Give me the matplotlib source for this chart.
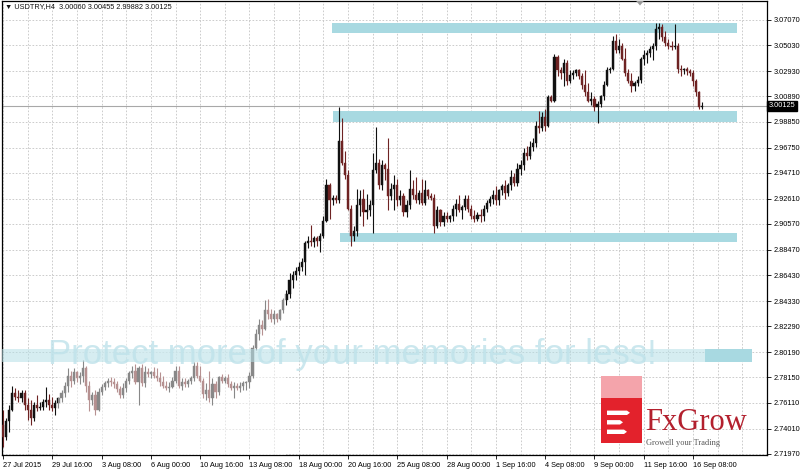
import matplotlib
matplotlib.use("Agg")
import matplotlib.pyplot as plt
import matplotlib.transforms as mtransforms
from matplotlib.patches import Rectangle, Polygon
import numpy as np

# USDTRY H4 candles, 27 Jul 2015 .. 16 Sep 2015
symbol = "USDTRY,H4"

opens = [2.743, 2.733, 2.746, 2.755, 2.769, 2.766, 2.765, 2.769, 2.759, 2.755,
         2.749, 2.759, 2.757, 2.758, 2.762, 2.763, 2.759, 2.757, 2.761, 2.765,
         2.769, 2.775, 2.783, 2.779, 2.786, 2.781, 2.783, 2.789, 2.775, 2.763,
         2.767, 2.755, 2.770, 2.774, 2.777, 2.779, 2.778, 2.776, 2.772, 2.767,
         2.773, 2.779, 2.785, 2.787, 2.778, 2.789, 2.777, 2.786, 2.784, 2.786,
         2.783, 2.781, 2.778, 2.775, 2.773, 2.774, 2.779, 2.787, 2.775, 2.778,
         2.776, 2.779, 2.781, 2.791, 2.783, 2.779, 2.768, 2.771, 2.765, 2.776,
         2.770, 2.782, 2.779, 2.781, 2.776, 2.773, 2.775, 2.773, 2.775, 2.777,
         2.778, 2.783, 2.805, 2.817, 2.824, 2.821, 2.836, 2.833, 2.829, 2.833,
         2.829, 2.836, 2.844, 2.849, 2.860, 2.864, 2.868, 2.871, 2.875, 2.890,
         2.892, 2.891, 2.894, 2.892, 2.896, 2.908, 2.937, 2.925, 2.927, 2.925,
         2.973, 2.955, 2.945, 2.918, 2.896, 2.900, 2.921, 2.926, 2.915, 2.917,
         2.921, 2.949, 2.955, 2.937, 2.953, 2.950, 2.928, 2.934, 2.937, 2.925,
         2.928, 2.915, 2.921, 2.934, 2.929, 2.925, 2.931, 2.923, 2.933, 2.928,
         2.927, 2.904, 2.917, 2.907, 2.912, 2.910, 2.912, 2.918, 2.922, 2.917,
         2.919, 2.926, 2.918, 2.912, 2.910, 2.913, 2.912, 2.918, 2.923, 2.926,
         2.929, 2.925, 2.933, 2.936, 2.931, 2.937, 2.944, 2.939, 2.950, 2.953,
         2.963, 2.961, 2.968, 2.971, 2.985, 2.983, 2.992, 2.985, 3.008, 3.005,
         3.041, 3.030, 3.028, 3.036, 3.021, 3.026, 3.028, 3.030, 3.025, 3.018,
         3.012, 3.005, 3.007, 3.000, 3.003, 3.009, 3.018, 3.030, 3.031, 3.054,
         3.046, 3.050, 3.039, 3.028, 3.021, 3.017, 3.020, 3.022, 3.039, 3.042,
         3.044, 3.047, 3.050, 3.063, 3.065, 3.057, 3.052, 3.050, 3.049, 3.050,
         3.031, 3.030, 3.031, 3.029, 3.028, 3.021, 3.012, 3.00060]

highs = [2.755, 2.749, 2.759, 2.775, 2.773, 2.771, 2.771, 2.771, 2.765, 2.763,
         2.762, 2.767, 2.762, 2.764, 2.774, 2.768, 2.766, 2.763, 2.766, 2.771,
         2.778, 2.789, 2.787, 2.789, 2.787, 2.786, 2.796, 2.791, 2.779, 2.770,
         2.771, 2.773, 2.776, 2.779, 2.781, 2.782, 2.781, 2.779, 2.775, 2.777,
         2.781, 2.787, 2.791, 2.792, 2.791, 2.792, 2.791, 2.789, 2.787, 2.790,
         2.789, 2.786, 2.783, 2.779, 2.778, 2.782, 2.791, 2.791, 2.781, 2.781,
         2.780, 2.783, 2.794, 2.794, 2.791, 2.781, 2.777, 2.787, 2.781, 2.779,
         2.783, 2.784, 2.783, 2.784, 2.779, 2.778, 2.777, 2.778, 2.779, 2.779,
         2.786, 2.808, 2.821, 2.829, 2.828, 2.844, 2.845, 2.837, 2.836, 2.834,
         2.837, 2.846, 2.852, 2.866, 2.868, 2.871, 2.875, 2.878, 2.892, 2.896,
         2.905, 2.896, 2.896, 2.898, 2.912, 2.942, 2.939, 2.929, 2.929, 3.000,
         2.991, 2.965, 2.949, 2.921, 2.904, 2.934, 2.933, 2.934, 2.930, 2.925,
         2.963, 2.984, 2.958, 2.957, 2.955, 2.975, 2.939, 2.945, 2.942, 2.933,
         2.931, 2.925, 2.949, 2.941, 2.944, 2.933, 2.942, 2.941, 2.934, 2.931,
         2.930, 2.920, 2.918, 2.915, 2.915, 2.913, 2.921, 2.926, 2.929, 2.921,
         2.929, 2.929, 2.921, 2.917, 2.915, 2.918, 2.921, 2.925, 2.928, 2.933,
         2.936, 2.934, 2.938, 2.941, 2.939, 2.949, 2.947, 2.955, 2.957, 2.967,
         2.969, 2.973, 2.975, 2.989, 2.997, 2.996, 2.999, 3.010, 3.010, 3.043,
         3.042, 3.033, 3.039, 3.038, 3.030, 3.030, 3.031, 3.031, 3.028, 3.030,
         3.020, 3.012, 3.009, 3.005, 3.010, 3.021, 3.033, 3.033, 3.058, 3.059,
         3.055, 3.052, 3.048, 3.031, 3.028, 3.021, 3.025, 3.041, 3.046, 3.046,
         3.050, 3.052, 3.068, 3.068, 3.067, 3.062, 3.055, 3.054, 3.067, 3.052,
         3.034, 3.032, 3.033, 3.031, 3.030, 3.023, 3.013, 3.00455]

lows = [2.725, 2.731, 2.737, 2.754, 2.763, 2.762, 2.762, 2.755, 2.747, 2.743,
        2.746, 2.754, 2.755, 2.755, 2.758, 2.755, 2.754, 2.751, 2.757, 2.762,
        2.766, 2.770, 2.774, 2.776, 2.778, 2.776, 2.778, 2.770, 2.754, 2.759,
        2.751, 2.754, 2.767, 2.771, 2.774, 2.775, 2.773, 2.770, 2.765, 2.765,
        2.770, 2.776, 2.781, 2.776, 2.759, 2.775, 2.774, 2.782, 2.781, 2.781,
        2.779, 2.775, 2.773, 2.771, 2.770, 2.773, 2.777, 2.773, 2.771, 2.774,
        2.774, 2.776, 2.779, 2.781, 2.778, 2.765, 2.763, 2.762, 2.759, 2.765,
        2.767, 2.777, 2.777, 2.774, 2.771, 2.765, 2.771, 2.770, 2.771, 2.771,
        2.773, 2.781, 2.804, 2.812, 2.816, 2.820, 2.829, 2.826, 2.825, 2.826,
        2.828, 2.834, 2.840, 2.846, 2.854, 2.860, 2.864, 2.868, 2.864, 2.886,
        2.888, 2.887, 2.888, 2.883, 2.894, 2.907, 2.910, 2.921, 2.923, 2.923,
        2.953, 2.942, 2.917, 2.888, 2.892, 2.896, 2.912, 2.904, 2.910, 2.912,
        2.898, 2.947, 2.934, 2.933, 2.941, 2.917, 2.925, 2.917, 2.920, 2.921,
        2.912, 2.911, 2.918, 2.926, 2.923, 2.922, 2.921, 2.921, 2.926, 2.925,
        2.898, 2.902, 2.904, 2.904, 2.907, 2.907, 2.908, 2.912, 2.915, 2.910,
        2.917, 2.915, 2.910, 2.907, 2.908, 2.907, 2.908, 2.915, 2.920, 2.922,
        2.921, 2.921, 2.929, 2.926, 2.928, 2.933, 2.936, 2.936, 2.945, 2.949,
        2.957, 2.958, 2.965, 2.968, 2.979, 2.981, 2.981, 2.984, 3.004, 3.004,
        3.025, 3.023, 3.017, 3.018, 3.020, 3.023, 3.025, 3.023, 3.015, 3.009,
        3.004, 3.002, 2.997, 2.987, 3.000, 3.006, 3.017, 3.028, 3.030, 3.044,
        3.044, 3.038, 3.025, 3.020, 3.012, 3.013, 3.017, 3.020, 3.034, 3.036,
        3.041, 3.038, 3.046, 3.055, 3.054, 3.050, 3.047, 3.046, 3.047, 3.028,
        3.025, 3.027, 3.026, 3.025, 3.017, 3.009, 2.999, 2.99882]

closes = [2.733, 2.746, 2.755, 2.769, 2.766, 2.765, 2.769, 2.759, 2.755, 2.749,
          2.759, 2.757, 2.758, 2.762, 2.763, 2.759, 2.757, 2.761, 2.765, 2.769,
          2.775, 2.783, 2.779, 2.786, 2.781, 2.783, 2.789, 2.775, 2.763, 2.767,
          2.755, 2.770, 2.774, 2.777, 2.779, 2.778, 2.776, 2.772, 2.767, 2.773,
          2.779, 2.785, 2.787, 2.778, 2.789, 2.777, 2.786, 2.784, 2.786, 2.783,
          2.781, 2.778, 2.775, 2.773, 2.774, 2.779, 2.787, 2.775, 2.778, 2.776,
          2.779, 2.781, 2.791, 2.783, 2.779, 2.768, 2.771, 2.765, 2.776, 2.770,
          2.782, 2.779, 2.781, 2.776, 2.773, 2.775, 2.773, 2.775, 2.777, 2.778,
          2.783, 2.805, 2.817, 2.824, 2.821, 2.836, 2.833, 2.829, 2.833, 2.829,
          2.836, 2.844, 2.849, 2.860, 2.864, 2.868, 2.871, 2.875, 2.890, 2.892,
          2.891, 2.894, 2.892, 2.896, 2.908, 2.937, 2.925, 2.927, 2.925, 2.973,
          2.955, 2.945, 2.918, 2.896, 2.900, 2.921, 2.926, 2.915, 2.917, 2.921,
          2.949, 2.955, 2.937, 2.953, 2.950, 2.928, 2.934, 2.937, 2.925, 2.928,
          2.915, 2.921, 2.934, 2.929, 2.925, 2.931, 2.923, 2.933, 2.928, 2.927,
          2.904, 2.917, 2.907, 2.912, 2.910, 2.912, 2.918, 2.922, 2.917, 2.919,
          2.926, 2.918, 2.912, 2.910, 2.913, 2.912, 2.918, 2.923, 2.926, 2.929,
          2.925, 2.933, 2.936, 2.931, 2.937, 2.944, 2.939, 2.950, 2.953, 2.963,
          2.961, 2.968, 2.971, 2.985, 2.983, 2.992, 2.985, 3.008, 3.005, 3.041,
          3.030, 3.028, 3.036, 3.021, 3.026, 3.028, 3.030, 3.025, 3.018, 3.012,
          3.005, 3.007, 3.000, 3.003, 3.009, 3.018, 3.030, 3.031, 3.054, 3.046,
          3.050, 3.039, 3.028, 3.021, 3.017, 3.020, 3.022, 3.039, 3.042, 3.044,
          3.047, 3.050, 3.063, 3.065, 3.057, 3.052, 3.050, 3.049, 3.050, 3.031,
          3.030, 3.031, 3.029, 3.028, 3.021, 3.012, 3.0006, 3.00125]

date_labels = ["27 Jul 2015", "29 Jul 16:00", "3 Aug 08:00", "6 Aug 00:00",
               "10 Aug 16:00", "13 Aug 08:00", "18 Aug 00:00", "20 Aug 16:00",
               "25 Aug 08:00", "28 Aug 00:00", "1 Sep 16:00", "4 Sep 08:00",
               "9 Sep 00:00", "11 Sep 16:00", "16 Sep 08:00"]
bars_per_label = 16

price_ticks = [3.07070, 3.05030, 3.02930, 3.00890, 2.98850, 2.96750, 2.94710,
               2.92610, 2.90570, 2.88470, 2.86430, 2.84330, 2.82290, 2.80190,
               2.78150, 2.76110, 2.74010, 2.71970]

# drawn support / resistance zones: (low, high, first bar, last bar)
zones = [(3.0603, 3.0684, 106.8, 238.3),
         (2.9878, 2.9970, 107.0, 238.3),
         (2.8907, 2.8980, 109.4, 238.3)]

assert len(opens) == len(highs) == len(lows) == len(closes)

o = np.array(opens); h = np.array(highs); l = np.array(lows); c = np.array(closes)
n = len(c)
idx = np.arange(n)

bull_col = "#111111"
bear_col = "#6e2323"
zone_col = "#a8d9e1"
grid_col = "#c4c4c4"
font = ["Liberation Sans", "DejaVu Sans"]
serif = ["Liberation Serif", "DejaVu Serif"]
fs = 5.3

fig = plt.figure(figsize=(8, 4.7), dpi=100)
ax = fig.add_axes([2/800, 15/470, 765/800, 454/470])

ax.set_xlim(-0.33, 248.0)
ax.set_ylim(2.7188, 3.0860)

# grid
for y in price_ticks:
    ax.axhline(y, color=grid_col, lw=0.6, ls=(0, (2, 2)), zorder=0)
for x in range(0, 249, bars_per_label // 2):
    ax.axvline(x, color=grid_col, lw=0.6, ls=(0, (2, 2)), zorder=0)

# zones
for lo, hi, x0, x1 in zones:
    ax.add_patch(Rectangle((x0, lo), x1 - x0, hi - lo, facecolor=zone_col,
                           edgecolor="none", zorder=1))

# current price line
ax.axhline(c[-1], color="#a8a8a8", lw=0.8, zorder=1)

# candles
up = c >= o
cols = np.where(up, bull_col, bear_col)
ax.vlines(idx, l, h, colors=cols, lw=0.8, zorder=3)
body = np.maximum(np.abs(c - o), 0.0004)
ax.bar(idx, body, bottom=np.minimum(o, c), width=0.7, color=cols,
       edgecolor=cols, linewidth=0.3, zorder=4)

# faded area from the photo host watermark
ax.add_patch(Rectangle((0.073, 0.0), 0.298, 0.363, transform=ax.transAxes,
                       facecolor="white", alpha=0.5, edgecolor="none", zorder=5))
ax.add_patch(Rectangle((0.0, 0.205), 0.919, 0.029, transform=ax.transAxes,
                       facecolor="#b5dfe6", alpha=0.55, edgecolor="none", zorder=6))
ax.add_patch(Rectangle((0.919, 0.205), 0.061, 0.029, transform=ax.transAxes,
                       facecolor=zone_col, edgecolor="none", zorder=6))
ax.text(0.4575, 0.222, "Protect more of your memories for less!", transform=ax.transAxes,
        ha="center", va="center", fontsize=25, color="#bfe2ea", alpha=0.8,
        family=font, zorder=6)

# chart shift marker
ax.add_patch(Polygon([[0.829, 1.0], [0.839, 1.0], [0.834, 0.99]], closed=True,
                     transform=ax.transAxes, facecolor="#9a9a9a", edgecolor="none",
                     zorder=7, clip_on=False))

# axes
for s in ax.spines.values():
    s.set_color("black")
    s.set_linewidth(0.9)
ax.yaxis.tick_right()
ax.set_yticks(price_ticks)
ax.set_yticklabels([f"{v:.5f}" for v in price_ticks], fontsize=fs, family=font)
ax.tick_params(axis="y", length=3, width=0.6, pad=2)
ax.set_xticks(range(0, bars_per_label * len(date_labels), bars_per_label))
ax.set_xticklabels(date_labels, fontsize=fs, family=font, ha="left")
ax.tick_params(axis="x", length=3, width=0.6, pad=2)

# current price box on the price scale
trans = mtransforms.blended_transform_factory(ax.transAxes, ax.transData)
ax.text(1.002, c[-1], f"{c[-1]:.5f}", transform=trans, ha="left", va="center",
        fontsize=fs, family=font, color="white", zorder=8,
        bbox=dict(facecolor="black", edgecolor="black", pad=1.2))

# header
fig.text(5/800, 1 - 7/470,
         f"\u25BC {symbol}  {o[-1]:.5f} {h[-1]:.5f} {l[-1]:.5f} {c[-1]:.5f}",
         fontsize=fs, family=font, va="center", ha="left", color="#111111")

# FxGrow logo
lax = fig.add_axes([601/800, 27/470, 41/800, 67/470])
lax.set_xlim(0, 41)
lax.set_ylim(0, 67)
lax.axis("off")
lax.add_patch(Rectangle((0, 45), 41, 22, facecolor="#f4a4ab", edgecolor="none"))
lax.add_patch(Rectangle((0, 0), 41, 45, facecolor="#e3222c", edgecolor="none"))
for yb, xe in [(28, 29), (18.5, 22), (9, 26)]:
    lax.add_patch(Polygon([[6, yb], [xe - 3, yb], [xe, yb + 2.2], [xe - 3, yb + 4.4],
                           [6, yb + 4.4]], closed=True, facecolor="white",
                          edgecolor="none"))
fig.text(645/800, 1 - 430/470, "FxGrow", fontsize=22, family=serif,
         color="#b3202e", va="baseline", ha="left")
fig.text(646/800, 1 - 445/470, "Growell your Trading", fontsize=6,
         family=serif, color="#555555", va="baseline", ha="left")

fig.savefig("out.png", dpi=100, facecolor="white")
